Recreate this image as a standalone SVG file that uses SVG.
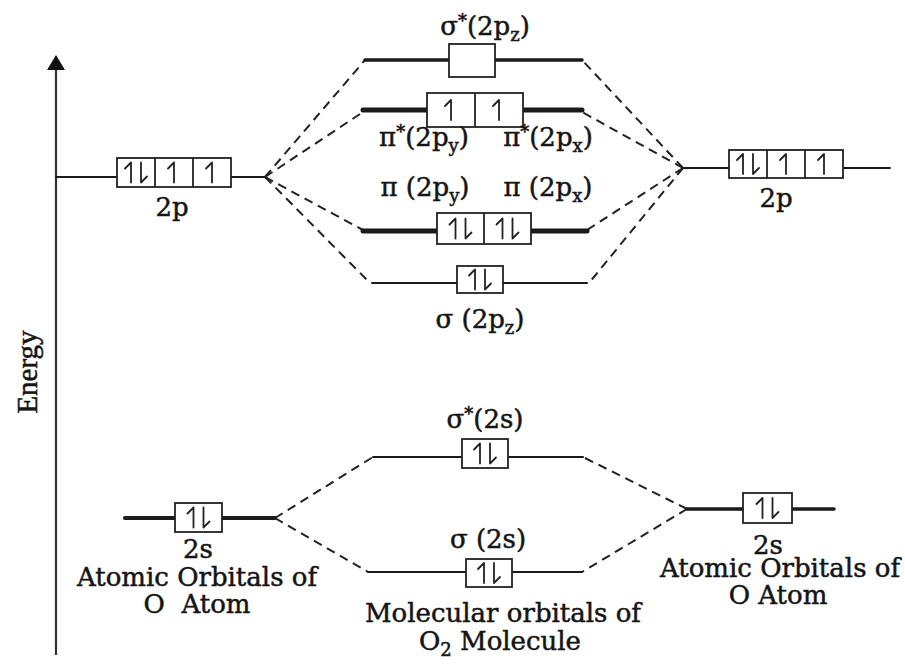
<svg xmlns="http://www.w3.org/2000/svg" width="905" height="664" viewBox="0 0 905 664">
<defs>
<style>
.lbl{font-family:"DejaVu Serif","Liberation Serif",serif;font-size:26px;fill:#151515;stroke:#151515;stroke-width:0.5;text-anchor:middle}
.sub{font-size:18px}
.box{fill:#fff;stroke:#222;stroke-width:1.8}
.div{stroke:#222;stroke-width:1.8}
.lv{stroke:#1a1a1a;fill:none;stroke-linecap:round}
.dash{stroke:#222;stroke-width:2;fill:none;stroke-dasharray:9 6}
.e{stroke:#222;stroke-width:1.8;fill:none;stroke-linecap:round}
</style>
<path id="up" d="M0,-10 V10 M0,-10 L-6,-4"/>
<path id="dn" d="M0,-10 V10 M0,10 L6,4"/>
</defs>
<rect width="905" height="664" fill="#fff"/>

<g id="axis">
<line x1="56" y1="66" x2="56" y2="655" stroke="#333" stroke-width="2.2"/>
<polygon points="56,55 47,70 65,70" fill="#111"/>
<text class="lbl" transform="rotate(-90)" x="-372" y="37" style="font-family:'Liberation Serif',serif;font-size:29px">Energy</text>
</g>

<g id="connectors">
<line class="dash" x1="265" y1="177" x2="365" y2="60"/>
<line class="dash" x1="265" y1="177" x2="363" y2="112"/>
<line class="dash" x1="265" y1="177" x2="363" y2="230"/>
<line class="dash" x1="265" y1="177" x2="370" y2="283"/>
<line class="dash" x1="683" y1="168" x2="582" y2="60"/>
<line class="dash" x1="683" y1="168" x2="582" y2="112"/>
<line class="dash" x1="683" y1="168" x2="587" y2="230"/>
<line class="dash" x1="683" y1="168" x2="589" y2="283"/>
<line class="dash" x1="275" y1="518" x2="373" y2="457"/>
<line class="dash" x1="275" y1="518" x2="368" y2="572"/>
<line class="dash" x1="687" y1="509" x2="583" y2="457"/>
<line class="dash" x1="687" y1="509" x2="582" y2="572"/>
</g>

<g id="left-2p">
<line class="lv" x1="56" y1="177" x2="265" y2="177" stroke-width="1.8"/>
<rect class="box" x="117" y="158" width="114" height="29"/>
<line class="div" x1="155" y1="158" x2="155" y2="187"/>
<line class="div" x1="193" y1="158" x2="193" y2="187"/>
<use href="#up" class="e" x="131" y="172.5"/>
<use href="#dn" class="e" x="141" y="172.5"/>
<use href="#up" class="e" x="174" y="172.5"/>
<use href="#up" class="e" x="212" y="172.5"/>
<text class="lbl" x="172" y="216">2p</text>
</g>

<g id="right-2p">
<line class="lv" x1="683" y1="168" x2="890" y2="168" stroke-width="1.8"/>
<rect class="box" x="729" y="150" width="114" height="28"/>
<line class="div" x1="767" y1="150" x2="767" y2="178"/>
<line class="div" x1="805" y1="150" x2="805" y2="178"/>
<use href="#up" class="e" x="743" y="164"/>
<use href="#dn" class="e" x="753" y="164"/>
<use href="#up" class="e" x="786" y="164"/>
<use href="#up" class="e" x="824" y="164"/>
<text class="lbl" x="776" y="207">2p</text>
</g>

<g id="sigma-star-2pz">
<line class="lv" x1="365" y1="60" x2="582" y2="60" stroke-width="3.5"/>
<rect class="box" x="449" y="44" width="46" height="33"/>
<text class="lbl" x="485" y="35">σ<tspan class="sub" dy="-8">*</tspan><tspan dy="8">(2p</tspan><tspan class="sub" dy="6">z</tspan><tspan dy="-6">)</tspan></text>
</g>

<g id="pi-star-2p">
<line class="lv" x1="363" y1="110" x2="582" y2="110" stroke-width="5"/>
<rect class="box" x="427" y="93" width="96" height="34"/>
<line class="div" x1="475" y1="93" x2="475" y2="127"/>
<use href="#up" class="e" x="451" y="110"/>
<use href="#up" class="e" x="499" y="110"/>
<text class="lbl" x="424" y="146">π<tspan class="sub" dy="-8">*</tspan><tspan dy="8">(2p</tspan><tspan class="sub" dy="6">y</tspan><tspan dy="-6">)</tspan></text>
<text class="lbl" x="548" y="146">π<tspan class="sub" dy="-8">*</tspan><tspan dy="8">(2p</tspan><tspan class="sub" dy="6">x</tspan><tspan dy="-6">)</tspan></text>
</g>

<g id="pi-2p">
<line class="lv" x1="363" y1="231" x2="587" y2="231" stroke-width="5"/>
<rect class="box" x="437" y="213" width="94" height="31"/>
<line class="div" x1="484" y1="213" x2="484" y2="244"/>
<use href="#up" class="e" x="455.5" y="228.5"/>
<use href="#dn" class="e" x="465.5" y="228.5"/>
<use href="#up" class="e" x="502.5" y="228.5"/>
<use href="#dn" class="e" x="512.5" y="228.5"/>
<text class="lbl" x="425" y="196">π (2p<tspan class="sub" dy="6">y</tspan><tspan dy="-6">)</tspan></text>
<text class="lbl" x="548" y="196">π (2p<tspan class="sub" dy="6">x</tspan><tspan dy="-6">)</tspan></text>
</g>

<g id="sigma-2pz">
<line class="lv" x1="372" y1="283" x2="587" y2="283" stroke-width="2"/>
<rect class="box" x="457" y="266" width="46" height="27"/>
<use href="#up" class="e" x="475" y="279.5"/>
<use href="#dn" class="e" x="485" y="279.5"/>
<text class="lbl" x="480" y="328">σ (2p<tspan class="sub" dy="6">z</tspan><tspan dy="-6">)</tspan></text>
</g>

<g id="sigma-star-2s">
<line class="lv" x1="373" y1="457" x2="583" y2="457" stroke-width="2"/>
<rect class="box" x="462" y="439" width="46" height="29"/>
<use href="#up" class="e" x="480" y="453.5"/>
<use href="#dn" class="e" x="490" y="453.5"/>
<text class="lbl" x="485" y="428">σ<tspan class="sub" dy="-8">*</tspan><tspan dy="8">(2s)</tspan></text>
</g>

<g id="sigma-2s">
<line class="lv" x1="368" y1="572" x2="582" y2="572" stroke-width="2"/>
<rect class="box" x="466" y="559" width="46" height="28"/>
<use href="#up" class="e" x="484" y="573"/>
<use href="#dn" class="e" x="494" y="573"/>
<text class="lbl" x="488" y="548">σ (2s)</text>
<text class="lbl" x="503" y="622">Molecular orbitals of</text>
<text class="lbl" x="500" y="650">O<tspan class="sub" dy="6">2</tspan><tspan dy="-6"> Molecule</tspan></text>
</g>

<g id="left-2s">
<line class="lv" x1="125" y1="518" x2="275" y2="518" stroke-width="4"/>
<rect class="box" x="175" y="503" width="47" height="29"/>
<use href="#up" class="e" x="193.5" y="517.5"/>
<use href="#dn" class="e" x="203.5" y="517.5"/>
<text class="lbl" x="198" y="558">2s</text>
<text class="lbl" x="197" y="586">Atomic Orbitals of</text>
<text class="lbl" x="197" y="613" xml:space="preserve">O  Atom</text>
</g>

<g id="right-2s">
<line class="lv" x1="687" y1="509" x2="834" y2="509" stroke-width="3.5"/>
<rect class="box" x="743" y="493" width="49" height="30"/>
<use href="#up" class="e" x="762.5" y="508"/>
<use href="#dn" class="e" x="772.5" y="508"/>
<text class="lbl" x="768" y="554">2s</text>
<text class="lbl" x="780" y="577">Atomic Orbitals of</text>
<text class="lbl" x="778" y="604">O Atom</text>
</g>
</svg>
